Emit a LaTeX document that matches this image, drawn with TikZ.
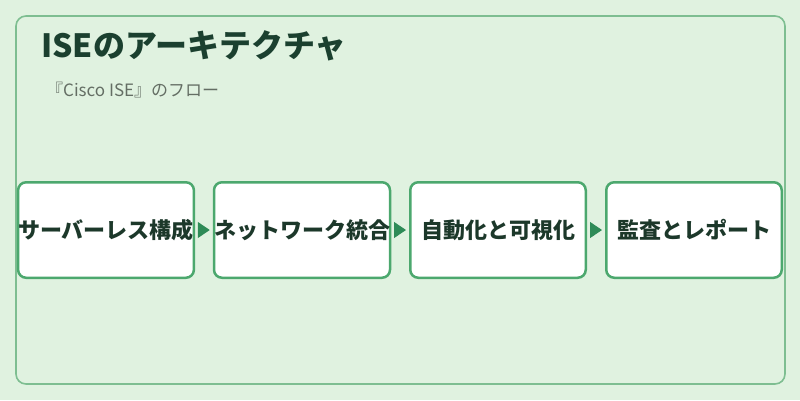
\documentclass[tikz,border=0pt]{standalone}
\usepackage{fontspec}
\setmainfont{Noto Sans CJK JP}
\usetikzlibrary{arrows.meta}
\definecolor{bgc}{RGB}{224,242,224}
\definecolor{framec}{RGB}{126,190,145}
\definecolor{boxc}{RGB}{76,168,110}
\definecolor{arrowc}{RGB}{46,139,87}
\definecolor{titlec}{RGB}{27,64,47}
\definecolor{subc}{RGB}{100,110,100}
\definecolor{textc}{RGB}{28,56,42}
\tikzset{
  stepbox/.style={draw=boxc, fill=white, line width=2.5pt, rounded corners=8pt,
    minimum width=175.5pt, minimum height=95.5pt, inner sep=0pt,
    text=textc, font=\fontsize{22}{22}\selectfont\bfseries},
  flow/.style={draw=arrowc, line width=1pt, shorten <=3pt, shorten >=3pt,
    -{Triangle[length=12pt,width=16pt]}}
}
\begin{document}
\begin{tikzpicture}[x=1pt,y=-1pt]
\fill[bgc] (0,0) rectangle (800,400);
\useasboundingbox (0,0) rectangle (800,400);
\draw[framec, rounded corners=10pt, line width=1.6pt] (16,16) rectangle (785,384);
\node[anchor=base west, inner sep=0pt, text=titlec, font=\fontsize{32}{32}\selectfont\bfseries] (title) at (41,57) {ISEのアーキテクチャ};
\node[anchor=base west, inner sep=0pt, text=subc, font=\fontsize{17}{17}\selectfont] (sub) at (46,96) {『Cisco ISE』のフロー};
\node[stepbox] (b1) at (106,230) {サーバーレス構成};
\node[stepbox] (b2) at (302,230) {ネットワーク統合};
\node[stepbox] (b3) at (498,230) {自動化と可視化};
\node[stepbox] (b4) at (694,230) {監査とレポート};
\draw[flow] (b1.east) -- (b2.west);
\draw[flow] (b2.east) -- (b3.west);
\draw[flow] (b3.east) -- (b4.west);
\end{tikzpicture}
\end{document}
